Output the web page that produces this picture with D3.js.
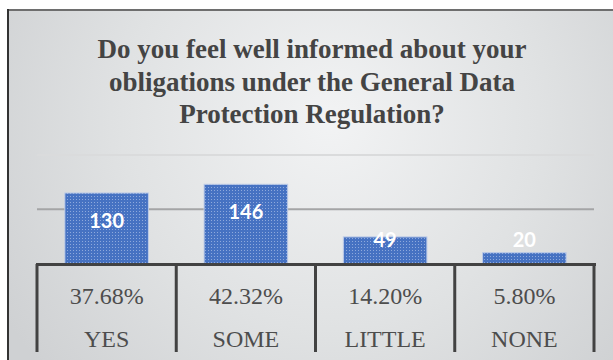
<!DOCTYPE html>
<html>
<head>
<meta charset="utf-8">
<script src="https://cdn.jsdelivr.net/npm/d3@7/dist/d3.min.js"></script>
<style>
  html, body { margin: 0; padding: 0; background: #ffffff; }
  svg { display: block; }
</style>
</head>
<body>
<script>
// Survey responses: GDPR awareness
const categories = ["YES", "SOME", "LITTLE", "NONE"];
const counts = [130, 146, 49, 20];
const shares = ["37.68%", "42.32%", "14.20%", "5.80%"];
const gridTicks = [100, 200];
const titleLines = [
  "Do you feel well informed about your",
  "obligations under the General Data",
  "Protection Regulation?"
];

const W = 613, H = 360;
const svg = d3.select("body").append("svg").attr("width", W).attr("height", H);
const defs = svg.append("defs");

// soft grey backdrop, lighter towards the upper middle
const bg = defs.append("radialGradient").attr("id", "bg")
  .attr("gradientUnits", "userSpaceOnUse")
  .attr("cx", 330).attr("cy", 120).attr("r", 380);
bg.append("stop").attr("offset", "0%").attr("stop-color", "#f2f3f4");
bg.append("stop").attr("offset", "55%").attr("stop-color", "#e0e2e3");
bg.append("stop").attr("offset", "100%").attr("stop-color", "#cfd1d3");

// dotted blue fill for the bars
const pat = defs.append("pattern").attr("id", "dots")
  .attr("patternUnits", "userSpaceOnUse").attr("width", 3).attr("height", 3);
pat.append("rect").attr("width", 3).attr("height", 3).attr("fill", "#4672c2");
pat.append("rect").attr("x", 1).attr("y", 1).attr("width", 1).attr("height", 1).attr("fill", "#8ea9dc");

// chart frame
svg.append("rect").attr("x", 8).attr("y", 10).attr("width", W + 20).attr("height", H + 20)
  .attr("fill", "url(#bg)");
svg.append("line").attr("x1", 7).attr("x2", W).attr("y1", 10).attr("y2", 10)
  .attr("stroke", "#6e6e6e").attr("stroke-width", 2);
svg.append("line").attr("x1", 8).attr("x2", 8).attr("y1", 9).attr("y2", H)
  .attr("stroke", "#333333").attr("stroke-width", 2);

// title
svg.append("text")
  .attr("x", 312).attr("y", 58)
  .attr("text-anchor", "middle")
  .attr("font-family", "'Liberation Serif', 'Times New Roman', serif")
  .attr("font-weight", "bold").attr("font-size", 27).attr("fill", "#444444")
  .selectAll("tspan").data(titleLines).join("tspan")
  .attr("x", 312).attr("dy", (d, i) => i === 0 ? 0 : 32.5).text(d => d);

// scales
const x = d3.scaleBand().domain(categories).range([37, 594])
  .paddingInner(0.4).paddingOuter(0.2);
const y = d3.scaleLinear().domain([0, 200]).range([263.5, 155]);

// gridlines
svg.append("g").selectAll("line").data(gridTicks).join("line")
  .attr("x1", 37).attr("x2", 594)
  .attr("y1", d => y(d)).attr("y2", d => y(d))
  .attr("stroke", d => d === 100 ? "#a4a5a6" : "#dadbdc")
  .attr("stroke-width", 2);

// bars
svg.append("g").selectAll("rect").data(counts).join("rect")
  .attr("x", (d, i) => x(categories[i]))
  .attr("width", x.bandwidth())
  .attr("y", d => y(d))
  .attr("height", d => y(0) - y(d))
  .attr("fill", "url(#dots)")
  .attr("stroke", "#bccbe8").attr("stroke-width", 1);

// value labels (inside end, kept clear of the axis line)
svg.append("g").selectAll("text").data(counts).join("text")
  .attr("x", (d, i) => x(categories[i]) + x.bandwidth() / 2)
  .attr("y", d => Math.min(y(d) + 28, y(0) - 24))
  .attr("dy", "0.35em")
  .attr("text-anchor", "middle")
  .attr("font-family", "Lato, 'Open Sans', sans-serif")
  .attr("font-weight", "bold").attr("font-size", 20).attr("fill", "#ffffff")
  .text(d => d);

// data table below the axis
const step = x.step();
const bounds = d3.range(categories.length + 1).map(i => 37 + i * step);
const table = svg.append("g").attr("stroke", "#424242").attr("stroke-width", 3);
table.append("line").attr("x1", 36).attr("x2", 596).attr("y1", 264.5).attr("y2", 264.5);
table.selectAll("line.v").data(bounds).join("line").attr("class", "v")
  .attr("x1", d => d).attr("x2", d => d).attr("y1", 264).attr("y2", 352);

const cellText = svg.append("g")
  .attr("font-family", "'Liberation Serif', 'Times New Roman', serif")
  .attr("font-size", 24).attr("fill", "#4d4d4d").attr("text-anchor", "middle");
cellText.selectAll("text.pct").data(shares).join("text").attr("class", "pct")
  .attr("x", (d, i) => x(categories[i]) + x.bandwidth() / 2)
  .attr("y", 296).attr("dy", "0.35em").text(d => d);
cellText.selectAll("text.cat").data(categories).join("text").attr("class", "cat")
  .attr("x", d => x(d) + x.bandwidth() / 2)
  .attr("y", 339).attr("dy", "0.35em").text(d => d);
</script>
</body>
</html>
